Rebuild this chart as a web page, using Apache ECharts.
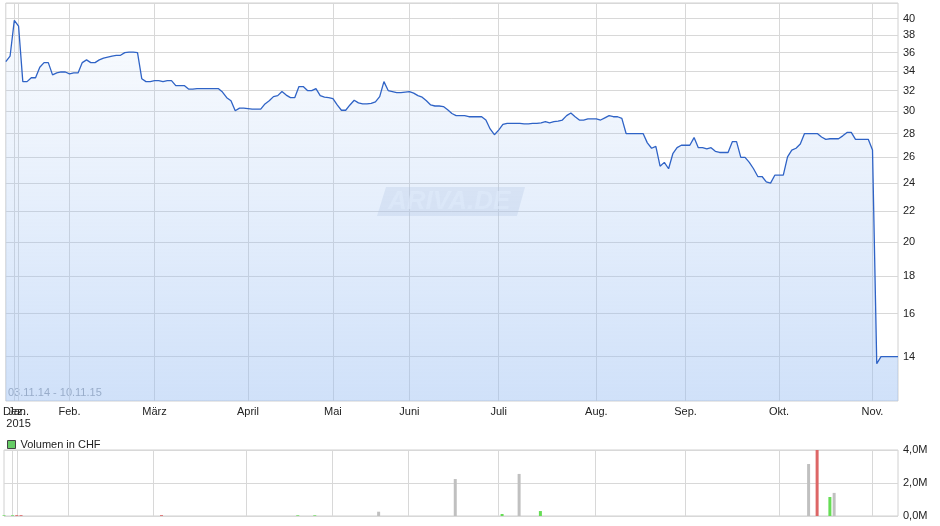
<!DOCTYPE html>
<html>
<head>
<meta charset="utf-8">
<script src="https://cdn.jsdelivr.net/npm/echarts@6/dist/echarts.min.js"></script>
<style>html,body{margin:0;padding:0;background:#fff}#c{width:940px;height:526px}</style>
</head>
<body>
<div id="c"></div>
<script>
// price per trading day (index 0..210)
const prices = [
35.0, 35.6, 39.8, 39.1, 32.9, 32.9, 33.3, 33.3, 34.4, 34.9,
34.9, 33.6, 33.8, 33.9, 33.9, 33.7, 33.8, 33.8, 34.9, 35.2,
34.9, 34.9, 35.2, 35.4, 35.5, 35.6, 35.7, 35.7, 36.0, 36.05,
36.05, 36.0, 33.2, 32.9, 32.9, 33.0, 33.0, 32.9, 33.0, 33.0,
32.5, 32.5, 32.5, 32.15, 32.15, 32.2, 32.2, 32.2, 32.2, 32.2,
32.2, 31.85, 31.3, 31.0, 30.05, 30.3, 30.3, 30.25, 30.2, 30.2,
30.2, 30.7, 31.0, 31.4, 31.5, 31.9, 31.55, 31.3, 31.3, 32.4,
32.4, 32.0, 32.0, 32.2, 31.5, 31.35, 31.3, 31.2, 30.6, 30.1,
30.1, 30.6, 31.05, 30.8, 30.7, 30.7, 30.75, 30.9, 31.4, 32.9,
32.0, 31.9, 31.8, 31.8, 31.85, 31.9, 31.75, 31.5, 31.35, 31.0,
30.6, 30.5, 30.5, 30.45, 30.15, 29.8, 29.6, 29.6, 29.6, 29.5,
29.5, 29.5, 29.5, 29.2, 28.4, 27.9, 28.3, 28.8, 28.9, 28.9,
28.9, 28.9, 28.85, 28.85, 28.9, 28.9, 28.95, 29.05, 28.95, 29.05,
29.1, 29.2, 29.6, 29.85, 29.5, 29.2, 29.2, 29.3, 29.3, 29.3,
29.2, 29.4, 29.6, 29.5, 29.5, 29.35, 28.0, 28.0, 28.0, 28.0,
28.0, 27.2, 26.75, 26.9, 25.3, 25.6, 25.1, 26.3, 26.8, 27.0,
27.0, 27.0, 27.65, 26.8, 26.8, 26.7, 26.8, 26.5, 26.4, 26.4,
26.4, 27.3, 27.3, 26.0, 26.0, 25.6, 25.1, 24.5, 24.5, 24.1,
24.0, 24.6, 24.6, 24.6, 26.05, 26.6, 26.75, 27.1, 28.0, 28.0,
28.0, 28.0, 27.7, 27.5, 27.55, 27.55, 27.55, 27.8, 28.1, 28.1,
27.5, 27.5, 27.5, 27.5, 26.6, 13.7, 14.0, 14.0, 14.0, 14.0,
14.0
];
// month boundaries (trading-day index) and labels
const monthIdx = [2, 3, 15, 35, 57, 77, 95, 116, 139, 160, 182, 204];
const monthLabels = ['Dez.', 'Jan.\n2015', 'Feb.', 'März', 'April', 'Mai', 'Juni', 'Juli', 'Aug.', 'Sep.', 'Okt.', 'Nov.'];
// price axis tick labels
const priceTicks = [14, 16, 18, 20, 22, 24, 26, 28, 30, 32, 34, 36, 38, 40];
const priceGrid = [14, 16, 18, 20, 22, 24, 26, 28, 30, 32, 34, 36, 38, 40, 42];
// volume bars (in millions CHF)
const volIdx  = [0, 2, 3, 4, 37, 69, 73, 88, 106, 117, 121, 126, 189, 191, 194, 195];
const volVals = [0.04, 0.04, 0.05, 0.05, 0.05, 0.04, 0.04, 0.26, 2.24, 0.12, 2.55, 0.3, 3.15, 4.0, 1.15, 1.4];
const volDir  = ['up', 'up', 'down', 'down', 'down', 'up', 'up', 'flat', 'flat', 'up', 'flat', 'up', 'flat', 'down', 'up', 'flat'];

const cats = prices.map((_, i) => {
  const k = monthIdx.indexOf(i);
  return k >= 0 ? monthLabels[k] : '';
});
const isMonth = (i) => monthIdx.indexOf(i) >= 0;
const firstMonth = monthIdx[0];
const volData = prices.map(() => null);
const dirColor = { up: '#66dd55', down: '#dd6666', flat: '#c0c0c0' };
volIdx.forEach((ix, k) => {
  volData[ix] = { value: volVals[k], itemStyle: { color: dirColor[volDir[k]] } };
});

const FONT = 'Liberation Sans, Arial, sans-serif';
const gridColor = '#d8d8d8';
const labelStyle = { color: '#222', fontSize: 11, margin: 5, lineHeight: 12, fontFamily: FONT, hideOverlap: false };
const chart = echarts.init(document.getElementById('c'), null, { renderer: 'canvas' });
chart.setOption({
  animation: false,
  textStyle: { fontFamily: FONT },
  grid: [
    { left: 4, right: 42, top: 3, bottom: 125, show: true, borderColor: '#d0d0d0', borderWidth: 1, backgroundColor: 'transparent' },
    { left: 4, right: 42, top: 450, bottom: 10, show: true, borderColor: '#d0d0d0', borderWidth: 1, backgroundColor: 'transparent' }
  ],
  legend: {
    data: [{ name: 'Volumen in CHF', icon: 'rect', itemStyle: { color: '#66cc66', borderColor: '#444', borderWidth: 1 } }],
    left: 2, top: 434, itemWidth: 8, itemHeight: 8, itemGap: 5, selectedMode: false,
    textStyle: { color: '#222', fontSize: 11, fontFamily: FONT }
  },
  xAxis: [
    {
      type: 'category', gridIndex: 0, data: cats, boundaryGap: false,
      axisLine: { show: false }, axisTick: { show: false },
      axisLabel: Object.assign({ interval: (i) => isMonth(i) && i !== firstMonth }, labelStyle),
      splitLine: { show: true, interval: (i) => isMonth(i), lineStyle: { color: gridColor, width: 1 } }
    },
    {
      type: 'category', gridIndex: 1, data: cats, boundaryGap: false,
      axisLine: { show: false }, axisTick: { show: false }, axisLabel: { show: false },
      splitLine: { show: true, interval: (i) => isMonth(i), lineStyle: { color: gridColor, width: 1 } }
    },
    {
      type: 'category', gridIndex: 0, data: cats, boundaryGap: false, position: 'bottom',
      axisLine: { show: false }, axisTick: { show: false }, splitLine: { show: false },
      axisLabel: Object.assign({ interval: (i) => i === firstMonth }, labelStyle)
    }
  ],
  yAxis: [
    {
      type: 'log', gridIndex: 0, position: 'right', min: 12.2, max: 42,
      axisLine: { show: false },
      axisTick: { show: false, customValues: priceGrid },
      axisLabel: { customValues: priceTicks, color: '#222', fontSize: 11, margin: 5, fontFamily: FONT, formatter: (v) => String(Math.round(v)) },
      splitLine: { show: true, lineStyle: { color: gridColor, width: 1 } }
    },
    {
      type: 'value', gridIndex: 1, position: 'right', min: 0, max: 4, interval: 2,
      axisLine: { show: false }, axisTick: { show: false },
      axisLabel: { color: '#222', fontSize: 11, margin: 5, fontFamily: FONT, formatter: (v) => v.toFixed(1).replace('.', ',') + 'M' },
      splitLine: { show: true, lineStyle: { color: gridColor, width: 1 } }
    }
  ],
  series: [
    {
      name: 'Kurs', type: 'line', xAxisIndex: 0, yAxisIndex: 0, data: prices,
      symbol: 'none', smooth: false,
      lineStyle: { color: '#2f63c6', width: 1.3 },
      areaStyle: {
        origin: 'start',
        color: new echarts.graphic.LinearGradient(0, 0, 0, 1, [
          { offset: 0, color: 'rgba(150,188,242,0.07)' },
          { offset: 1, color: 'rgba(150,188,242,0.64)' }
        ])
      }
    },
    {
      name: 'Volumen in CHF', type: 'bar', xAxisIndex: 1, yAxisIndex: 1, data: volData,
      barWidth: 3, itemStyle: { color: '#66cc66' }
    }
  ],
  graphic: [
    {
      type: 'polygon', z: 1, silent: true,
      shape: { points: [[386, 187], [525, 187], [517, 216], [377, 216]] },
      style: { fill: 'rgba(185,200,222,0.3)' }
    },
    {
      type: 'text', z: 2, silent: true, left: 388, top: 189,
      style: { text: 'ARIVA.DE', fill: 'rgba(245,248,253,0.6)', font: 'italic bold 26px ' + FONT }
    },
    {
      type: 'text', left: 8, top: 387, silent: true,
      style: { text: '03.11.14 - 10.11.15', fill: '#9aa0aa', font: '11px ' + FONT }
    }
  ]
});
</script>
</body>
</html>
